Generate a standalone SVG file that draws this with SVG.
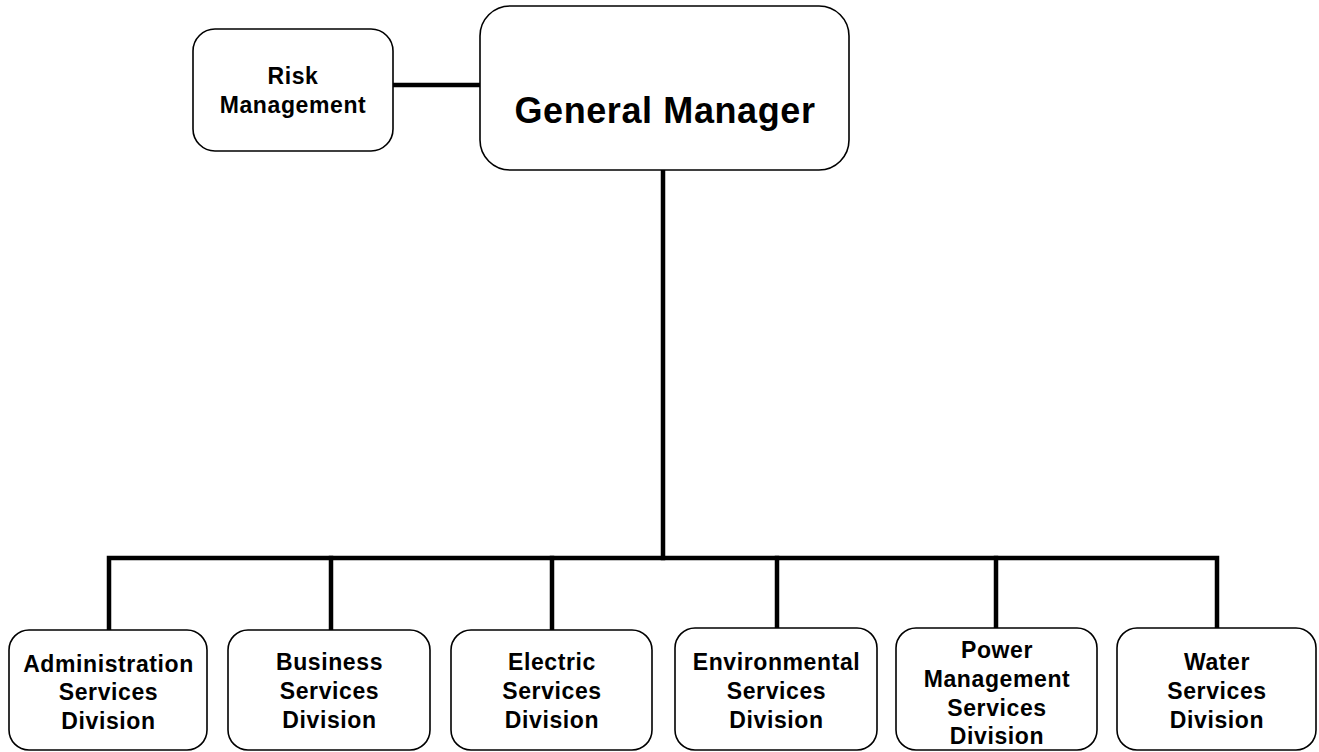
<svg xmlns="http://www.w3.org/2000/svg" width="1319" height="752" viewBox="0 0 1319 752">
<style>
.box{fill:#fff;stroke:#000;stroke-width:1.6}
.conn{stroke:#000;stroke-width:4.5;fill:none;stroke-linecap:square}
text{font-family:"Liberation Sans",Arial,sans-serif;font-weight:bold;fill:#000;text-anchor:middle;letter-spacing:0.6px}
.t{font-size:23px}
.big{font-size:36px}
</style>
<rect width="1319" height="752" fill="#fff"/>
<g id="connectors">
<line class="conn" x1="393" y1="85" x2="480" y2="85"/>
<line class="conn" x1="663" y1="170" x2="663" y2="558"/>
<polyline class="conn" points="109,628 109,558 1217,558 1217,628"/>
<line class="conn" x1="331" y1="558" x2="331" y2="630"/>
<line class="conn" x1="552" y1="558" x2="552" y2="630"/>
<line class="conn" x1="777" y1="558" x2="777" y2="628"/>
<line class="conn" x1="996" y1="558" x2="996" y2="628"/>
</g>
<g id="risk">
<rect class="box" x="193" y="29" width="200" height="122" rx="22"/>
<text class="t" x="293" y="84">Risk</text>
<text class="t" x="293" y="113">Management</text>
</g>
<g id="gm">
<rect class="box" x="480" y="6" width="369" height="164" rx="30"/>
<text class="big" x="665" y="123">General Manager</text>
</g>
<g id="admin">
<rect class="box" x="9" y="630" width="198" height="120" rx="20"/>
<text class="t" x="108.5" y="672">Administration</text>
<text class="t" x="108.5" y="700">Services</text>
<text class="t" x="108.5" y="729">Division</text>
</g>
<g id="business">
<rect class="box" x="228" y="630" width="202" height="120" rx="20"/>
<text class="t" x="329.5" y="670">Business</text>
<text class="t" x="329.5" y="699">Services</text>
<text class="t" x="329.5" y="728">Division</text>
</g>
<g id="electric">
<rect class="box" x="451" y="630" width="201" height="120" rx="20"/>
<text class="t" x="552" y="670">Electric</text>
<text class="t" x="552" y="699">Services</text>
<text class="t" x="552" y="728">Division</text>
</g>
<g id="environmental">
<rect class="box" x="675" y="628" width="202" height="122" rx="20"/>
<text class="t" x="776.5" y="670">Environmental</text>
<text class="t" x="776.5" y="699">Services</text>
<text class="t" x="776.5" y="728">Division</text>
</g>
<g id="power">
<rect class="box" x="896" y="628" width="201" height="122" rx="20"/>
<text class="t" x="997" y="658">Power</text>
<text class="t" x="997" y="687">Management</text>
<text class="t" x="997" y="716">Services</text>
<text class="t" x="997" y="744">Division</text>
</g>
<g id="water">
<rect class="box" x="1117" y="628" width="199" height="122" rx="20"/>
<text class="t" x="1217" y="670">Water</text>
<text class="t" x="1217" y="699">Services</text>
<text class="t" x="1217" y="728">Division</text>
</g>
</svg>
